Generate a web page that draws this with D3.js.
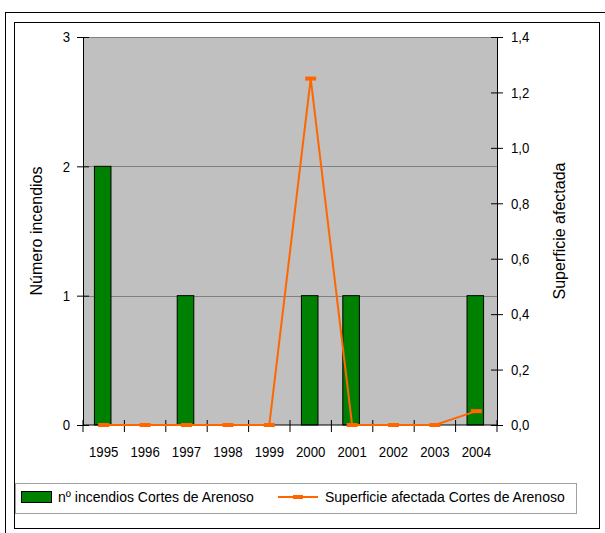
<!DOCTYPE html>
<html><head><meta charset="utf-8">
<script src="https://cdn.jsdelivr.net/npm/d3@7/dist/d3.min.js"></script>
<style>body{margin:0;background:#fff}svg{display:block}text{font-family:"Liberation Sans",Arial,sans-serif;fill:#000}</style>
</head><body>
<svg id="c" width="605" height="533"></svg>
<script>
const categories = ["1995","1996","1997","1998","1999","2000","2001","2002","2003","2004"];
const incendios = [2,0,1,0,0,1,1,0,0,1];
const superficie = [0,0,0,0,0,1.25,0,0,0,0.05];
const leftTicks = [0,1,2,3];
const rightTicks = [0,0.2,0.4,0.6,0.8,1.0,1.2,1.4];
const seriesNames = ["nº incendios Cortes de Arenoso","Superficie afectada Cortes de Arenoso"];

const svg = d3.select("#c");
const L=83,R=497,T=37,B=425;
const fmt = d => d3.format(".1f")(d).replace(".",",");

svg.append("rect").attr("x",5.5).attr("y",12.5).attr("width",610).attr("height",540).attr("fill","none").attr("stroke","#000");
svg.append("rect").attr("x",14.5).attr("y",22.5).attr("width",585).attr("height",506).attr("fill","#fff").attr("stroke","#000");

const x = d3.scaleBand().domain(categories).range([L,R]).paddingInner(0).paddingOuter(0);
const yL = d3.scaleLinear().domain([0,3]).range([B,T]);
const yR = d3.scaleLinear().domain([0,1.4]).range([B,T]);

svg.append("rect").attr("x",L).attr("y",T).attr("width",R-L).attr("height",B-T).attr("fill","#c0c0c0");
svg.append("line").attr("x1",L).attr("x2",R).attr("y1",T+0.5).attr("y2",T+0.5).attr("stroke","#808080");
svg.append("g").selectAll("line").data(leftTicks.filter(d=>d>0&&d<3)).join("line")
  .attr("x1",L).attr("x2",R).attr("y1",d=>Math.round(yL(d))+0.5).attr("y2",d=>Math.round(yL(d))+0.5).attr("stroke","#808080");

const bw = x.bandwidth()/2.5;
svg.append("g").selectAll("rect").data(incendios).join("rect")
  .attr("x",(d,i)=>x(categories[i])+(x.bandwidth()-bw)/2-1)
  .attr("y",d=>yL(d)).attr("width",bw).attr("height",d=>B-yL(d))
  .attr("fill","#008000").attr("stroke","#000").attr("stroke-width",1);

// axes
const gl = svg.append("g").attr("transform",`translate(${L},0)`).call(d3.axisLeft(yL).tickValues(leftTicks).tickSize(6).tickPadding(7).tickFormat(d3.format("d")));
gl.selectAll(".tick line").attr("x2",-6).attr("x1",6);
const gr = svg.append("g").attr("transform",`translate(${R},0)`).call(d3.axisRight(yR).tickValues(rightTicks).tickSize(6).tickPadding(10).tickFormat(fmt));
gr.selectAll(".tick line").attr("x1",-6).attr("x2",6);
const gx = svg.append("g").attr("transform",`translate(0,${B})`).call(d3.axisBottom(x).tickSize(0).tickPadding(21));
gx.select(".domain").attr("d",`M${L},0H${R}`);
gx.append("g").selectAll("line").data(categories.concat(["end"])).join("line")
  .attr("x1",(d,i)=>L+i*x.bandwidth()).attr("x2",(d,i)=>L+i*x.bandwidth())
  .attr("y1",-5).attr("y2",7).attr("stroke","#000");
[gl,gr,gx].forEach(g=>{g.selectAll("text").attr("font-size",15).attr("font-family","Liberation Sans, Arial");g.selectAll(".domain").attr("stroke","#000");});
gr.selectAll(".tick text").attr("x",14).each(function(){const w=this.getComputedTextLength();d3.select(this).attr("textLength",w*0.88).attr("lengthAdjust","spacingAndGlyphs");});
gl.selectAll(".tick text").each(function(){const w=this.getComputedTextLength();d3.select(this).attr("textLength",w*0.88).attr("lengthAdjust","spacingAndGlyphs");});
gx.selectAll(".tick text").each(function(){const w=this.getComputedTextLength();d3.select(this).attr("textLength",w*0.88).attr("lengthAdjust","spacingAndGlyphs");});

// line
const cx = (i)=>x(categories[i])+x.bandwidth()/2;
svg.append("path").datum(superficie).attr("fill","none").attr("stroke","#ff6600").attr("stroke-width",2)
  .attr("d",d3.line().x((d,i)=>cx(i)).y(d=>yR(d)));
svg.append("g").selectAll("rect").data(superficie).join("rect")
  .attr("x",(d,i)=>cx(i)-5.5).attr("y",d=>yR(d)-2).attr("width",11).attr("height",4).attr("fill","#ff6600");

// titles
svg.append("text").attr("transform","translate(42,231) rotate(-90)").attr("text-anchor","middle").attr("font-size",16).text("Número incendios");
svg.append("text").attr("transform","translate(565,231) rotate(-90)").attr("text-anchor","middle").attr("font-size",16).text("Superficie afectada");

// legend
svg.append("rect").attr("x",15.5).attr("y",483.5).attr("width",561).attr("height",30).attr("fill","#fff").attr("stroke","#a0a0a0");
svg.append("rect").attr("x",21.5).attr("y",491.5).attr("width",30).attr("height",11).attr("fill","#008000").attr("stroke","#000");
svg.append("text").attr("x",58).attr("y",502).attr("font-size",14).text(seriesNames[0]);
svg.append("line").attr("x1",278).attr("x2",318).attr("y1",497).attr("y2",497).attr("stroke","#ff6600").attr("stroke-width",2);
svg.append("rect").attr("x",293).attr("y",495).attr("width",10).attr("height",4).attr("fill","#ff6600");
svg.append("text").attr("x",325).attr("y",502).attr("font-size",14).text(seriesNames[1]);
</script>
</body></html>
